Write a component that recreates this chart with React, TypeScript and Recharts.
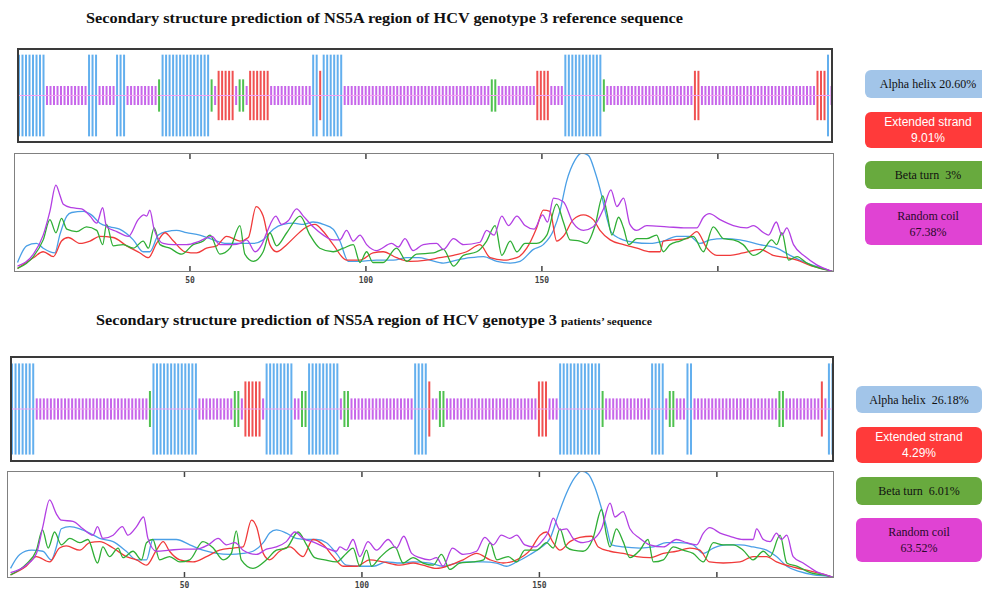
import { Bar, BarChart, Cell, Line, LineChart, ReferenceLine, XAxis, YAxis } from "recharts";

// residue positions of the axis ticks
const residueTicks = [50, 100, 150, 200];
const labelTicks = [50, 100, 150];
const seqLength = 233;

// predicted state per residue, as runs: H helix, E extended strand, T beta turn, C random coil
const refRuns: [string, number][] = [
  ["H", 8], ["C", 12], ["H", 3], ["C", 5], ["H", 3], ["C", 9], ["T", 1], ["H", 14], ["T", 1], ["C", 1],
  ["E", 5], ["C", 1], ["T", 2], ["C", 1], ["E", 6], ["C", 12], ["H", 2], ["E", 1], ["H", 6], ["C", 42],
  ["T", 2], ["C", 11], ["E", 4], ["C", 4], ["H", 11], ["T", 1], ["C", 25], ["E", 2], ["C", 33], ["E", 3],
  ["H", 1], ["C", 1],
];
const patRuns: [string, number][] = [
  ["H", 7], ["C", 32], ["T", 1], ["H", 13], ["C", 10], ["T", 2], ["C", 1], ["E", 5], ["C", 1], ["H", 8],
  ["C", 2], ["T", 2], ["H", 9], ["C", 1], ["T", 2], ["C", 18], ["H", 4], ["E", 1], ["C", 2], ["T", 2],
  ["C", 26], ["E", 3], ["C", 3], ["H", 12], ["T", 1], ["C", 13], ["H", 4], ["C", 1], ["T", 2], ["C", 3],
  ["H", 2], ["C", 24], ["T", 2], ["C", 10], ["E", 1], ["C", 1], ["H", 2],
];

// probability profiles, [residue, score]
const refHelix = [[1,0.08],[3.6,0.22],[6.4,0.24],[8.3,0.2],[11.6,0.16],[13,0.31],[15,0.47],[16.4,0.5],[19.7,0.51],[22,0.48],[24.4,0.41],[27.3,0.38],[30,0.36],[33.9,0.27],[36.7,0.17],[38.6,0.17],[41,0.31],[43.4,0.34],[46.2,0.35],[49,0.33],[52.8,0.31],[56.6,0.27],[60.4,0.24],[64.2,0.24],[68,0.24],[70.8,0.27],[73.7,0.36],[76.5,0.4],[79.4,0.41],[82.2,0.4],[85,0.42],[87.9,0.4],[90.7,0.36],[92.6,0.26],[95,0.09],[98.3,0.09],[103,0.1],[107.8,0.1],[111.6,0.12],[115,0.12],[118.2,0.1],[122,0.075],[125.8,0.1],[129.6,0.12],[133.4,0.13],[137.2,0.09],[141,0.075],[143.8,0.09],[147.6,0.19],[150.4,0.23],[153.3,0.35],[155.2,0.52],[157,0.76],[159.4,0.94],[161.3,1],[163.2,0.98],[165.1,0.84],[167,0.64],[168.4,0.46],[169.8,0.33],[172.2,0.28],[176,0.25],[180.7,0.24],[184.5,0.26],[188.3,0.3],[192,0.3],[194.9,0.24],[197.8,0.27],[201.6,0.28],[206.3,0.27],[211.9,0.23],[216.7,0.2],[220.5,0.14],[225.3,0.075],[232,0.01],[233,0]];
const refStrand = [[1,0.03],[5.5,0.12],[8.3,0.17],[11.2,0.13],[13.5,0.26],[15.4,0.29],[18.8,0.24],[21.6,0.26],[24.4,0.3],[28.2,0.29],[32,0.22],[35.8,0.16],[38.2,0.12],[40.5,0.24],[42.9,0.33],[45.3,0.26],[48.6,0.17],[51.9,0.16],[54.7,0.2],[57.6,0.22],[60.4,0.3],[64.2,0.26],[66.6,0.29],[68.8,0.55],[70.8,0.47],[72.7,0.23],[74.6,0.17],[77.5,0.23],[80.3,0.31],[82.7,0.37],[85.5,0.4],[87.9,0.34],[90.7,0.23],[94.5,0.1],[98.3,0.1],[102,0.16],[104.9,0.17],[108.7,0.12],[112.5,0.09],[117.2,0.1],[121,0.12],[124.9,0.14],[128.6,0.17],[132.4,0.23],[135.3,0.12],[139.1,0.1],[142.9,0.12],[145.7,0.2],[148.5,0.37],[150.4,0.52],[152.3,0.51],[154.2,0.26],[156.1,0.3],[158.9,0.44],[161.8,0.48],[164.6,0.44],[166.5,0.35],[169.4,0.27],[173.2,0.23],[177,0.2],[180.7,0.17],[183.6,0.17],[184.5,0.26],[187.4,0.27],[191.2,0.28],[194,0.34],[196.9,0.2],[199.7,0.14],[203.5,0.14],[207.2,0.16],[212,0.19],[215.7,0.14],[219.6,0.12],[222.5,0.1],[226.2,0.055],[232,0.01],[233,0]];
const refTurn = [[1,0.03],[5.5,0.13],[8.3,0.27],[10.2,0.44],[11.9,0.33],[13.5,0.45],[15,0.36],[17.8,0.34],[20.6,0.38],[23.5,0.35],[25.2,0.23],[26.3,0.4],[28.2,0.22],[31,0.23],[33.9,0.2],[36.7,0.26],[38.2,0.2],[39.8,0.37],[41.5,0.23],[44.3,0.2],[47.6,0.15],[50.9,0.23],[53.8,0.26],[55.7,0.31],[58.5,0.15],[61.4,0.2],[64.2,0.39],[65.6,0.15],[68,0.09],[70.8,0.17],[72.7,0.33],[74.6,0.22],[77.5,0.33],[81.3,0.47],[84.1,0.31],[86.9,0.2],[90.7,0.17],[93.6,0.2],[96.4,0.23],[98.3,0.08],[100.2,0.17],[102,0.08],[104.9,0.08],[108.7,0.2],[111.6,0.09],[114.4,0.15],[119.2,0.16],[122,0.19],[124.9,0.05],[127.7,0.14],[131.5,0.17],[134.3,0.26],[136.7,0.39],[138.6,0.14],[141,0.26],[142.9,0.17],[145.2,0.24],[148.5,0.24],[151.4,0.31],[154.2,0.57],[156.1,0.42],[158,0.27],[160.8,0.26],[162.7,0.24],[165.1,0.39],[167.3,0.64],[168.4,0.51],[169.9,0.31],[171.8,0.46],[173.2,0.37],[174.7,0.23],[177,0.28],[179.8,0.28],[182.6,0.31],[184.5,0.17],[186.4,0.23],[189.2,0.26],[193,0.3],[195.9,0.17],[198.7,0.38],[201.6,0.28],[204.4,0.27],[207.2,0.23],[210.1,0.14],[213,0.19],[215.3,0.27],[216.7,0.23],[218.2,0.33],[220.1,0.1],[222.5,0.13],[225.3,0.075],[229,0.03],[232,0.01],[233,0]];
const refCoil = [[1,0.05],[5.5,0.15],[8.3,0.31],[10.2,0.51],[11.9,0.73],[13,0.65],[14,0.57],[16.4,0.54],[19.2,0.53],[21.6,0.47],[23.5,0.41],[25.2,0.54],[26.3,0.38],[29.2,0.34],[32.5,0.3],[35.3,0.44],[36.9,0.48],[37.7,0.47],[38.6,0.52],[39.8,0.36],[42.4,0.24],[45.3,0.23],[49,0.23],[52.8,0.26],[56.2,0.3],[58.5,0.23],[62.3,0.23],[64.2,0.24],[66.1,0.27],[68.5,0.17],[70.4,0.23],[71.8,0.33],[74.4,0.47],[76,0.4],[77.9,0.43],[80.3,0.53],[82.2,0.47],[85,0.38],[87.9,0.31],[90.7,0.27],[92.6,0.27],[94.5,0.35],[96.4,0.26],[98.3,0.31],[100.2,0.23],[103,0.18],[107.3,0.24],[109.2,0.21],[111.1,0.28],[113.4,0.18],[116.3,0.23],[120.1,0.24],[122,0.19],[124.9,0.28],[127.7,0.23],[132.4,0.25],[134.3,0.35],[136.4,0.31],[138.6,0.47],[140.5,0.39],[142.9,0.47],[145.2,0.39],[147.8,0.36],[150.2,0.48],[151.6,0.42],[153.3,0.62],[156.1,0.59],[158.9,0.41],[161.8,0.35],[164.6,0.38],[167.5,0.53],[169.6,0.69],[171.3,0.55],[173.2,0.62],[175,0.4],[176.9,0.35],[179.8,0.39],[185.5,0.38],[191,0.37],[194,0.37],[195.9,0.46],[197.6,0.49],[200.6,0.44],[204.4,0.39],[208.2,0.37],[210.1,0.39],[213,0.33],[214.4,0.31],[216.6,0.42],[218.2,0.31],[219.6,0.37],[221.5,0.23],[224.8,0.13],[228.1,0.06],[232,0.01],[233,0]];

const patHelix = [[1,0.09],[3.6,0.22],[6.9,0.26],[10.1,0.25],[12.5,0.17],[13.9,0.29],[15.3,0.46],[17.7,0.48],[20.5,0.46],[23.3,0.42],[26.1,0.37],[29.9,0.34],[33.6,0.25],[36.5,0.17],[39.3,0.17],[41.1,0.36],[44,0.36],[47.7,0.36],[51.5,0.31],[55.2,0.26],[59,0.23],[62.8,0.22],[66.5,0.23],[69.3,0.25],[72.2,0.33],[74,0.42],[75.9,0.45],[78.7,0.42],[81.5,0.37],[84.4,0.36],[87.2,0.36],[90,0.33],[92.8,0.23],[95.6,0.12],[99.4,0.11],[103.2,0.11],[106.9,0.15],[110.7,0.14],[114.4,0.15],[119.1,0.14],[122.9,0.11],[126.6,0.14],[130.4,0.15],[134.2,0.15],[137.9,0.14],[140.7,0.11],[143.6,0.15],[147.4,0.22],[150.2,0.28],[153,0.37],[155.3,0.59],[157.6,0.79],[160,0.94],[161.9,1],[163.8,0.97],[165.6,0.85],[167.5,0.65],[168.9,0.48],[170.3,0.31],[173.6,0.29],[178.3,0.28],[182.1,0.29],[185.8,0.33],[189.6,0.33],[193.3,0.31],[196.2,0.23],[199,0.28],[202.7,0.31],[206.5,0.31],[210.2,0.29],[214,0.26],[216.8,0.2],[219.7,0.11],[223.4,0.06],[227.2,0.03],[232.3,0.01],[233,0]];
const patStrand = [[1,0.03],[5.4,0.11],[8.3,0.2],[12,0.15],[14.8,0.28],[16.7,0.3],[20.5,0.26],[23.3,0.33],[26.1,0.34],[29.9,0.28],[33.6,0.2],[36.5,0.17],[39.3,0.12],[42.1,0.26],[44,0.34],[45.8,0.25],[48.7,0.17],[52.4,0.15],[56.2,0.2],[59.9,0.26],[63.7,0.28],[66.5,0.29],[68.9,0.54],[70.3,0.48],[72.2,0.23],[74,0.17],[76.8,0.25],[79.7,0.29],[83.4,0.2],[86.2,0.36],[89.1,0.31],[91.9,0.2],[94.7,0.11],[98.5,0.11],[102.2,0.17],[106,0.15],[110.7,0.12],[114.4,0.14],[117.2,0.12],[121,0.09],[124.8,0.12],[128.5,0.17],[132.3,0.23],[136.1,0.17],[139.8,0.14],[143.6,0.17],[147.4,0.26],[150.2,0.4],[152,0.43],[153.9,0.33],[155.8,0.26],[158.6,0.34],[161.4,0.38],[164.7,0.39],[166.6,0.29],[169.9,0.25],[173.6,0.23],[177.4,0.2],[181.1,0.19],[184.9,0.23],[188.6,0.25],[192.4,0.28],[195.2,0.26],[197.9,0.15],[201.8,0.14],[206.5,0.15],[210.2,0.2],[214,0.2],[216.8,0.15],[220.6,0.11],[224.3,0.08],[232.3,0.01],[233,0]];
const patTurn = [[1,0.03],[5.4,0.13],[8.3,0.26],[10,0.45],[11.6,0.28],[13.4,0.43],[15.3,0.31],[17.7,0.37],[20.5,0.33],[22.8,0.36],[25.5,0.14],[27,0.29],[28.9,0.2],[31.3,0.28],[32.7,0.19],[35.5,0.25],[37.9,0.17],[39.3,0.33],[41.1,0.36],[43,0.17],[45.8,0.2],[48.7,0.15],[51.5,0.17],[55.2,0.34],[58.1,0.28],[60.9,0.17],[63.2,0.23],[64.6,0.44],[66,0.17],[69.3,0.09],[73.1,0.17],[75.9,0.26],[78.7,0.28],[82,0.43],[84.4,0.31],[86.7,0.19],[89.5,0.17],[92.8,0.15],[95.6,0.23],[97.5,0.28],[99.4,0.11],[101.3,0.26],[102.7,0.11],[105,0.19],[109.3,0.29],[111.6,0.14],[114.4,0.19],[117.2,0.14],[120.1,0.12],[122.4,0.22],[124.8,0.08],[127.6,0.14],[131.3,0.15],[134.3,0.17],[136.1,0.33],[138,0.17],[141.2,0.2],[143.6,0.15],[145.9,0.26],[149.2,0.26],[152,0.33],[153.9,0.28],[155.8,0.46],[157.6,0.29],[159.5,0.26],[162.3,0.25],[165.1,0.37],[167.5,0.64],[168.9,0.4],[169.9,0.29],[171.7,0.46],[173.6,0.34],[175.5,0.19],[178.3,0.26],[180.6,0.36],[182.1,0.15],[184.9,0.17],[187.7,0.29],[190.5,0.26],[193.3,0.23],[196.2,0.15],[199,0.33],[201.8,0.31],[204.6,0.31],[207.4,0.26],[210.2,0.17],[213.1,0.25],[215,0.2],[217.8,0.4],[219.7,0.14],[222.5,0.11],[226.3,0.05],[232.3,0.01],[233,0]];
const patCoil = [[1,0.05],[5.4,0.12],[8.3,0.23],[10.1,0.48],[12,0.73],[13.9,0.6],[15.3,0.54],[18.6,0.53],[21.4,0.46],[24.2,0.4],[25.5,0.48],[27,0.37],[29.9,0.4],[32.5,0.48],[34.1,0.4],[36.5,0.48],[38.5,0.57],[39.7,0.37],[42.1,0.25],[45.8,0.26],[49.6,0.27],[53.4,0.27],[56.7,0.31],[59.5,0.37],[61.8,0.31],[64.2,0.33],[66.5,0.26],[70.3,0.22],[73.1,0.27],[75.9,0.29],[78.7,0.34],[81.1,0.43],[83.4,0.37],[86.7,0.33],[90,0.28],[92.8,0.25],[93.8,0.29],[95.6,0.26],[97.5,0.36],[99.4,0.2],[101.7,0.34],[104.1,0.26],[107.4,0.36],[109.7,0.28],[111.8,0.39],[114,0.23],[116.3,0.19],[119.1,0.17],[121,0.19],[122.9,0.11],[125.5,0.28],[128.5,0.22],[132.3,0.25],[134.6,0.38],[137,0.31],[139.3,0.4],[141.7,0.37],[143.6,0.4],[145.9,0.31],[148.7,0.29],[151.1,0.36],[152.5,0.43],[153.9,0.56],[155.8,0.45],[157.6,0.46],[159.5,0.37],[162.3,0.33],[165.1,0.36],[167.5,0.46],[169.9,0.7],[171.3,0.57],[173.6,0.62],[175.5,0.46],[178.3,0.37],[181.1,0.31],[184.9,0.29],[188.6,0.36],[191.5,0.33],[194.3,0.31],[196.2,0.42],[198,0.47],[200.9,0.42],[203.7,0.39],[207.4,0.36],[210.2,0.36],[211.2,0.46],[213.1,0.36],[215,0.34],[216.8,0.42],[218.2,0.36],[219.7,0.4],[221.5,0.2],[224.3,0.14],[228,0.06],[232.3,0.01],[233,0]];

const refLegend = ["Alpha helix 20.60%", "Extended strand\n9.01%", "Beta turn  3%", "Random coil\n67.38%"];
const patLegend = ["Alpha helix  26.18%", "Extended strand\n4.29%", "Beta turn  6.01%", "Random coil\n63.52%"];

const STATE_COLORS: Record<string, string> = { H: "#52a6ec", E: "#ee3e3e", T: "#3dba3d", C: "#c155e8" };
const STATE_HALF: Record<string, number> = { H: 0.86, E: 0.52, T: 0.34, C: 0.2 };
const LINE_COLORS = { helix: "#4a9fe6", strand: "#f03a3a", turn: "#2fae35", coil: "#b33fe3" };

const expandRuns = (runs: [string, number][]) => {
  const out: { r: number; s: string; span: number[] }[] = [];
  let r = 1;
  runs.forEach(([s, n]) => {
    for (let i = 0; i < n; i++) {
      out.push({ r, s, span: [-STATE_HALF[s], STATE_HALF[s]] });
      r++;
    }
  });
  return out;
};

const toPoints = (pts: number[][]) => pts.map(([r, v]) => ({ r, v }));

const boxTick = (plotHeight: number, withLabels: boolean, labelDy = 11) => (props: any) => {
  const { x, y, payload } = props;
  const showLabel = withLabels && labelTicks.includes(payload.value);
  return (
    <g>
      <line x1={x} x2={x} y1={y - 1} y2={y - 6} stroke="#444" strokeWidth={1.5} />
      <line x1={x} x2={x} y1={y - plotHeight + 1} y2={y - plotHeight + 6} stroke="#444" strokeWidth={1.5} />
      {showLabel && (
        <text x={x} y={y + labelDy} textAnchor="middle" fontFamily="DejaVu Sans Mono" fontWeight="bold" fontSize={8} fill="#444">
          {payload.value}
        </text>
      )}
    </g>
  );
};

const StructureTrack = ({ runs, left, top, width, height }: any) => {
  const data = expandRuns(runs);
  return (
    <div style={{ position: "absolute", left, top, width, height }}>
      <BarChart width={width} height={height} data={data} margin={{ top: 0, right: 0, bottom: 0, left: 0 }}>
        <XAxis type="number" dataKey="r" domain={[0.5, seqLength + 0.5]} ticks={residueTicks} interval={0}
          height={0} tickSize={0} tickMargin={0} axisLine={false} tickLine={false} tick={boxTick(height, false)} />
        <YAxis hide domain={[-1, 1]} />
        <Bar dataKey="span" barSize={2} isAnimationActive={false}>
          {data.map((d) => (
            <Cell key={d.r} fill={STATE_COLORS[d.s]} fillOpacity={0.9} />
          ))}
        </Bar>
        <ReferenceLine y={0} stroke="#f2a2f2" strokeWidth={1} />
      </BarChart>
      <div style={{ position: "absolute", inset: 0, border: "2px solid #3a3a3a", boxSizing: "border-box" }} />
    </div>
  );
};

const ProfilePlot = ({ helix, strand, turn, coil, left, top, width, plotHeight, labelDy }: any) => {
  const series = [
    { key: "helix", pts: helix, color: LINE_COLORS.helix },
    { key: "strand", pts: strand, color: LINE_COLORS.strand },
    { key: "turn", pts: turn, color: LINE_COLORS.turn },
    { key: "coil", pts: coil, color: LINE_COLORS.coil },
  ];
  const axisH = 12;
  return (
    <div style={{ position: "absolute", left, top, width, height: plotHeight + axisH }}>
      <LineChart width={width} height={plotHeight + axisH} margin={{ top: 0, right: 0, bottom: 0, left: 0 }}>
        <XAxis type="number" dataKey="r" domain={[0, seqLength]} ticks={residueTicks} interval={0} allowDataOverflow
          height={axisH} tickSize={0} tickMargin={0} axisLine={false} tickLine={false} tick={boxTick(plotHeight, true, labelDy)} />
        <YAxis hide domain={[0, 1]} allowDataOverflow />
        {series.map((s) => (
          <Line key={s.key} data={toPoints(s.pts)} dataKey="v" type="monotone" stroke={s.color}
            strokeWidth={1.3} dot={false} isAnimationActive={false} />
        ))}
      </LineChart>
      <div style={{ position: "absolute", left: 0, top: 0, width, height: plotHeight, border: "1.5px solid #808080", boxSizing: "border-box" }} />
    </div>
  );
};

const legendStyles = [
  { bg: "#a2c5e9", color: "#111", font: "'Liberation Serif', serif" },
  { bg: "#ff3a3a", color: "#fff", font: "'Liberation Sans', sans-serif" },
  { bg: "#68aa3e", color: "#111", font: "'Liberation Serif', serif" },
  { bg: "#e043d3", color: "#2a0a2a", font: "'Liberation Serif', serif" },
];

const LegendBoxes = ({ labels, left, tops, heights }: any) => (
  <>
    {labels.map((label: string, i: number) => (
      <div key={label} style={{
        position: "absolute", left, top: tops[i], width: 126, height: heights[i], background: legendStyles[i].bg,
        borderRadius: 6, color: legendStyles[i].color, fontFamily: legendStyles[i].font, fontSize: 12,
        lineHeight: "16px", display: "flex", alignItems: "center", justifyContent: "center", textAlign: "center",
        whiteSpace: "pre",
      }}>
        {label}
      </div>
    ))}
  </>
);

export default function App() {
  return (
    <div style={{ position: "absolute", left: 0, top: 0, width: 982, height: 590, overflow: "hidden", background: "#fff" }}>
      <svg width={982} height={590} style={{ position: "absolute", left: 0, top: 0 }}>
        <text x={86} y={23} fontFamily="'Liberation Serif', serif" fontWeight="bold" fontSize={14} textLength={597} lengthAdjust="spacingAndGlyphs" fill="#111">
          Secondary structure prediction of NS5A region of HCV genotype 3 reference sequence
        </text>
        <text x={96} y={325} fontFamily="'Liberation Serif', serif" fontWeight="bold" fontSize={14} textLength={461} lengthAdjust="spacingAndGlyphs" fill="#111">
          Secondary structure prediction of NS5A region of HCV genotype 3
        </text>
        <text x={561} y={325} fontFamily="'Liberation Serif', serif" fontWeight="bold" fontSize={10} textLength={91} lengthAdjust="spacingAndGlyphs" fill="#111">
          patients’ sequence
        </text>
      </svg>

      <StructureTrack runs={refRuns} left={17} top={48} width={816} height={95} />
      <ProfilePlot helix={refHelix} strand={refStrand} turn={refTurn} coil={refCoil} left={14} top={153} width={820} plotHeight={119} labelDy={11} />
      <LegendBoxes labels={refLegend} left={865} tops={[70, 112, 161, 203]} heights={[28, 36, 28, 42]} />

      <StructureTrack runs={patRuns} left={10} top={356} width={824} height={106} />
      <ProfilePlot helix={patHelix} strand={patStrand} turn={patTurn} coil={patCoil} left={7} top={471} width={827} plotHeight={107} labelDy={10} />
      <LegendBoxes labels={patLegend} left={856} tops={[386, 427, 477, 518]} heights={[27, 36, 28, 44]} />
    </div>
  );
}
